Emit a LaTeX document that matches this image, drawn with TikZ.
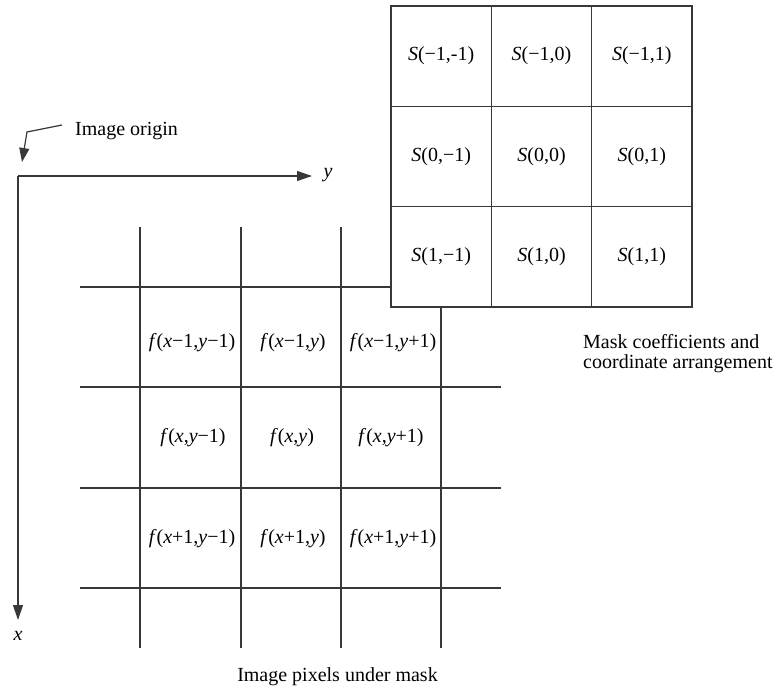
\documentclass[tikz,border=0pt]{standalone}
\usepackage{fontspec}
\setmainfont{Liberation Serif}
\usetikzlibrary{arrows.meta}
\newcommand{\vv}[1]{\textit{#1}}
\begin{document}
\begin{tikzpicture}[x=1pt,y=-1pt,
  ln/.style={line width=1.2pt, draw=black!78},
  axisarrow/.style={ln, -{Triangle[length=15pt,width=10pt]}},
  lbl/.style={font=\fontsize{20}{20}\selectfont, inner sep=0pt},
  cell/.style={lbl, draw=black!78, line width=1.2pt, fill=white,
    minimum width=100.33pt, minimum height=100.33pt, anchor=center}]
\useasboundingbox (0,0) rectangle (775,688);

% image pixel grid lines
\foreach \yy in {287,387,488,588} {\draw[ln] (80,\yy) -- (501,\yy);}
\foreach \xx in {140,241,341,441} {\draw[ln] (\xx,227) -- (\xx,648);}

% pixel labels
\node[lbl] (f11) at (192,343) {\vv{f}(\vv{x}−1,\vv{y}−1)};
\node[lbl] (f12) at (293,343) {\vv{f}(\vv{x}−1,\vv{y})};
\node[lbl] (f13) at (393,343) {\vv{f}(\vv{x}−1,\vv{y}+1)};
\node[lbl] (f21) at (193,438) {\vv{f}(\vv{x},\vv{y}−1)};
\node[lbl] (f22) at (292,438) {\vv{f}(\vv{x},\vv{y})};
\node[lbl] (f23) at (391,438) {\vv{f}(\vv{x},\vv{y}+1)};
\node[lbl] (f31) at (192,539) {\vv{f}(\vv{x}+1,\vv{y}−1)};
\node[lbl] (f32) at (293,539) {\vv{f}(\vv{x}+1,\vv{y})};
\node[lbl] (f33) at (393,539) {\vv{f}(\vv{x}+1,\vv{y}+1)};

% mask
\node[cell] (m11) at (441.17,56.17) {\vv{S}(−1,-1)};
\node[cell] (m12) at (541.5,56.17) {\vv{S}(−1,0)};
\node[cell] (m13) at (641.83,56.17) {\vv{S}(−1,1)};
\node[cell] (m21) at (441.17,156.5) {\vv{S}(0,−1)};
\node[cell] (m22) at (541.5,156.5) {\vv{S}(0,0)};
\node[cell] (m23) at (641.83,156.5) {\vv{S}(0,1)};
\node[cell] (m31) at (441.17,256.83) {\vv{S}(1,−1)};
\node[cell] (m32) at (541.5,256.83) {\vv{S}(1,0)};
\node[cell] (m33) at (641.83,256.83) {\vv{S}(1,1)};

% axes
\coordinate (O) at (18,176);
\coordinate (Yend) at (312,176);
\coordinate (Xend) at (18,620);
\draw[axisarrow] (O) -- (Yend);
\draw[axisarrow] (O) -- (Xend);
\node[lbl, anchor=base] (ylab) at (328,177) {\vv{y}};
\node[lbl, anchor=base] (xlab) at (18,640) {\vv{x}};

% image origin
\node[lbl, anchor=base west] (orig) at (75,135) {Image origin};
\coordinate (o1) at (62,125);
\coordinate (o2) at (27,132);
\coordinate (o3) at (22,162);
\draw[ln, -{Triangle[length=14pt,width=10pt]}] (o1) -- (o2) -- (o3);

% captions
\node[lbl, anchor=base] (cap1) at (337.5,681) {Image pixels under mask};
\node[lbl, anchor=north west, align=left] (cap2) at (583,334) {Mask coefficients and\\coordinate arrangement};
\end{tikzpicture}
\end{document}
